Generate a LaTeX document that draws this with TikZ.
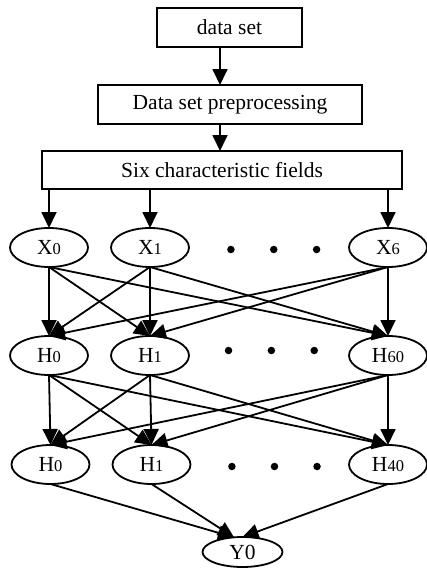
\documentclass[tikz,border=0pt]{standalone}
\usepackage{fontspec}
\setmainfont{Liberation Serif}
\usepackage{tikz}
\usetikzlibrary{arrows.meta}
\usetikzlibrary{shapes,positioning,calc}
\tikzset{net-line/.style={line width=1.8pt}}
\tikzset{>={Triangle[length=16pt, width=15pt]}}
\tikzset{flow-box/.style={draw, line width=1.8pt, inner sep=0, outer sep=0, minimum height=39pt, font=\fontsize{21.5}{25}\selectfont}}
\tikzset{net-node/.style={draw, ellipse, line width=1.8pt, inner sep=0, outer sep=0, minimum width=78pt, minimum height=39pt, font=\fontsize{21.5}{25}\selectfont}}
\tikzset{net-dot/.style={circle, fill, inner sep=0, outer sep=0, minimum size=7.5pt}}
\newcommand{\lbl}[2]{#1{\fontsize{16.5}{16}\selectfont #2}}

\begin{document}
\begin{tikzpicture}[x=1pt, y=1pt]
            \useasboundingbox (0,0) rectangle (426,-570);

            \node[flow-box, minimum width=145pt] (box1) at (229.5,-27.5) {data set};
            \node[flow-box, minimum width=264pt, below=38pt of box1.south, xshift=0.5pt] (box2) {Data set preprocessing};
            \node[flow-box, minimum width=360pt, minimum height=38pt, below=27pt of box2.south, xshift=-8pt] (box3) {Six characteristic fields};

            \node[net-node, below=39pt of box3.south west, xshift=7pt] (x0) {\lbl{X}{0}};
            \node[net-node, right=23pt of x0] (x1) {\lbl{X}{1}};
            \node[net-node, right=160pt of x1] (x6) {\lbl{X}{6}};

            \node[net-node, below=69pt of x0] (ha0) {\lbl{H}{0}};
            \node[net-node, below=69pt of x1] (ha1) {\lbl{H}{1}};
            \node[net-node, below=69pt of x6] (ha60) {\lbl{H}{60}};

            \node[net-node, below=70pt of ha0, xshift=1.5pt] (hb0) {\lbl{H}{0}};
            \node[net-node, below=70pt of ha1, xshift=1.5pt] (hb1) {\lbl{H}{1}};
            \node[net-node, below=70pt of ha60] (hb40) {\lbl{H}{40}};

            \node[net-node, minimum width=80pt, minimum height=30pt, below=53pt of hb1, xshift=91pt] (y0) {Y0};

            % dots between the columns
            \node[net-dot] (xd1) at ($(x1)!0.34!(x6)+(0,-2)$) {};
            \node[net-dot] (xd2) at ($(x1)!0.52!(x6)+(0,-2)$) {};
            \node[net-dot] (xd3) at ($(x1)!0.70!(x6)+(0,-2)$) {};
            \node[net-dot] (had1) at ($(ha1)!0.33!(ha60)+(0,5)$) {};
            \node[net-dot] (had2) at ($(ha1)!0.51!(ha60)+(0,5)$) {};
            \node[net-dot] (had3) at ($(ha1)!0.69!(ha60)+(0,5)$) {};
            \node[net-dot] (hbd1) at ($(hb1)!0.34!(hb40)+(0,-2)$) {};
            \node[net-dot] (hbd2) at ($(hb1)!0.52!(hb40)+(0,-2)$) {};
            \node[net-dot] (hbd3) at ($(hb1)!0.70!(hb40)+(0,-2)$) {};

            \draw[->, net-line] ([xshift=-9.5pt]box1.south) -- ([xshift=-9.5pt]box1.south |- box2.north);
            \draw[->, net-line] ([xshift=-10pt]box2.south) -- ([xshift=-10pt]box2.south |- box3.north);

            \draw[->, net-line] (x0.north |- box3.south) -- (x0);
            \draw[->, net-line] (x1.north |- box3.south) -- (x1);
            \draw[->, net-line] (x6.north |- box3.south) -- (x6);

            \draw[->, net-line] (x0.south) -- (ha0.north);
            \draw[->, net-line] (x0.south) -- (ha1.north);
            \draw[->, net-line] (x0.south) -- (ha60.north);
            \draw[->, net-line] (x1.south) -- (ha0.north);
            \draw[->, net-line] (x1.south) -- (ha1.north);
            \draw[->, net-line] (x1.south) -- (ha60.north);
            \draw[->, net-line] (x6.south) -- (ha0.north);
            \draw[->, net-line] (x6.south) -- (ha1.north);
            \draw[->, net-line] (x6.south) -- (ha60.north);

            \draw[->, net-line] (ha0.south) -- (hb0.north);
            \draw[->, net-line] (ha0.south) -- (hb1.north);
            \draw[->, net-line] (ha0.south) -- (hb40.north);
            \draw[->, net-line] (ha1.south) -- (hb0.north);
            \draw[->, net-line] (ha1.south) -- (hb1.north);
            \draw[->, net-line] (ha1.south) -- (hb40.north);
            \draw[->, net-line] (ha60.south) -- (hb0.north);
            \draw[->, net-line] (ha60.south) -- (hb1.north);
            \draw[->, net-line] (ha60.south) -- (hb40.north);

            \draw[->, net-line] (hb0.south) -- (y0.120);
            \draw[->, net-line] (hb1.south) -- (y0.120);
            \draw[->, net-line] (hb40.south) -- (y0.north);

        \end{tikzpicture}
\end{document}
